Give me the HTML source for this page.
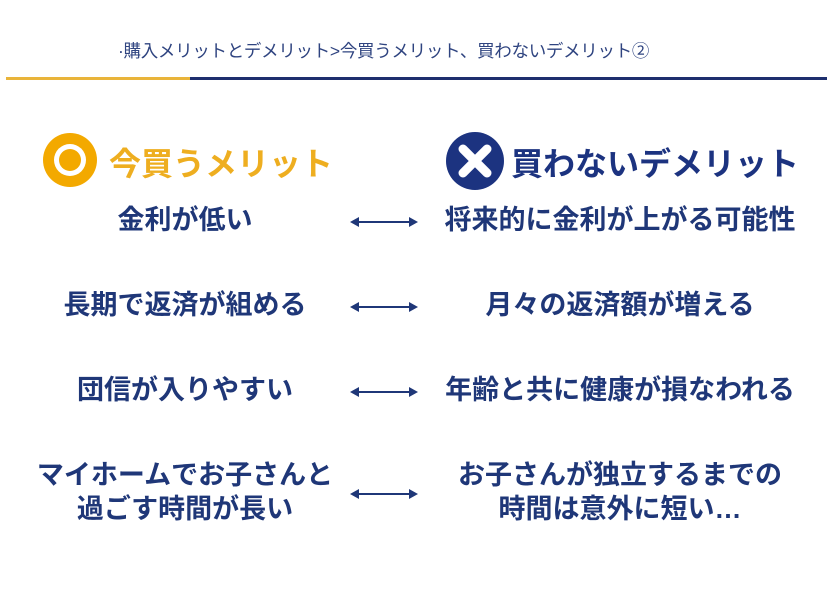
<!DOCTYPE html>
<html><head><meta charset="utf-8"><style>
body{margin:0;width:840px;height:607px;background:#fff;position:relative;overflow:hidden;font-family:"Liberation Sans","Noto Sans CJK JP",sans-serif;}
.t{position:absolute;white-space:nowrap;}
.c{position:absolute;text-align:center;color:#1f3778;font-weight:bold;font-size:27px;line-height:34px;}
.arr{position:absolute;left:350px;width:68px;height:12px;}
</style></head><body>
<div class="t" style="left:118px;top:38px;font-size:17.5px;letter-spacing:-0.3px;color:#2f4480;">·購入メリットとデメリット&gt;今買うメリット、買わないデメリット②</div>
<div style="position:absolute;left:6px;top:77px;width:184px;height:3px;background:#e9b43a"></div>
<div style="position:absolute;left:190px;top:77px;width:637px;height:3px;background:#1e2f6e"></div>

<svg style="position:absolute;left:40px;top:132px" width="60" height="60"><circle cx="30" cy="28" r="27" fill="#f3a900"/><circle cx="30" cy="28" r="16" fill="#fff"/><circle cx="30" cy="28" r="11" fill="#f3a900"/></svg>
<div class="t" style="left:109px;top:139px;font-size:32px;font-weight:bold;color:#eeae20;">今買うメリット</div>
<svg style="position:absolute;left:444px;top:130px" width="62" height="62"><circle cx="31" cy="31" r="29" fill="#1c3380"/><path d="M19 19 L43 43 M43 19 L19 43" stroke="#fff" stroke-width="9" stroke-linecap="round"/></svg>
<div class="t" style="left:511px;top:139px;font-size:32px;font-weight:bold;color:#1c3380;">買わないデメリット</div>

<div class="c" style="left:60px;width:250px;top:203px">金利が低い</div>
<div class="c" style="left:430px;width:380px;top:203px">将来的に金利が上がる可能性</div>
<div class="c" style="left:20px;width:330px;top:288px">長期で返済が組める</div>
<div class="c" style="left:430px;width:380px;top:288px">月々の返済額が増える</div>
<div class="c" style="left:20px;width:330px;top:373px">団信が入りやすい</div>
<div class="c" style="left:430px;width:380px;top:373px">年齢と共に健康が損なわれる</div>
<div class="c" style="left:10px;width:350px;top:458px">マイホームでお子さんと<br>過ごす時間が長い</div>
<div class="c" style="left:430px;width:380px;top:458px">お子さんが独立するまでの<br>時間は意外に短い…</div>

<svg class="arr" style="top:216px" viewBox="0 0 68 12"><path d="M2 6H66" stroke="#1f3778" stroke-width="2"/><path d="M0 6L9 1V11Z M68 6L59 1V11Z" fill="#1f3778"/></svg>
<svg class="arr" style="top:301px" viewBox="0 0 68 12"><path d="M2 6H66" stroke="#1f3778" stroke-width="2"/><path d="M0 6L9 1V11Z M68 6L59 1V11Z" fill="#1f3778"/></svg>
<svg class="arr" style="top:386px" viewBox="0 0 68 12"><path d="M2 6H66" stroke="#1f3778" stroke-width="2"/><path d="M0 6L9 1V11Z M68 6L59 1V11Z" fill="#1f3778"/></svg>
<svg class="arr" style="top:488px" viewBox="0 0 68 12"><path d="M2 6H66" stroke="#1f3778" stroke-width="2"/><path d="M0 6L9 1V11Z M68 6L59 1V11Z" fill="#1f3778"/></svg>
</body></html>
